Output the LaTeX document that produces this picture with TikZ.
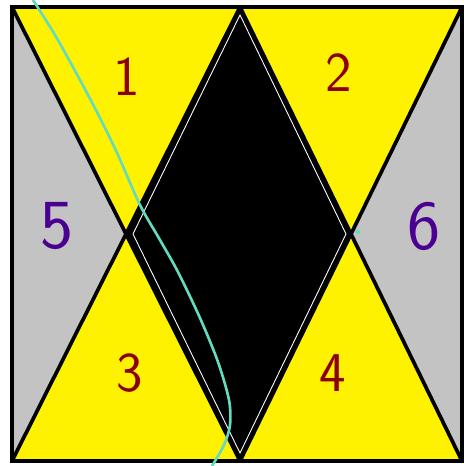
\documentclass[tikz,border=0pt]{standalone}
\usepackage{tikz}
\usetikzlibrary{calc}
\definecolor{panelyellow}{RGB}{255,242,0}
\definecolor{panelgrey}{RGB}{195,195,195}
\definecolor{numred}{RGB}{140,0,10}
\definecolor{numpurple}{RGB}{75,0,145}
\definecolor{traceline}{RGB}{100,218,190}

\begin{document}
\begin{tikzpicture}[x=0.02cm, y=-0.02cm]
    \tikzstyle{edge} = [line width=2.1pt, black, line join=miter]
    \tikzstyle{numlabel} = [font=\sffamily\fontsize{32}{32}\selectfont]
    \tikzstyle{biglabel} = [font=\sffamily\fontsize{40}{40}\selectfont]

    \useasboundingbox (0,0) rectangle (463,466);
    \fill[white] (0,0) rectangle (463,466);

    % corners and crossing points
    \coordinate (tl) at (12,7);
    \coordinate (tm) at (240,7);
    \coordinate (tr) at (462,7);
    \coordinate (bl) at (12,461);
    \coordinate (bm) at (240,461);
    \coordinate (br) at (462,461);
    \coordinate (xl) at (126,234);
    \coordinate (xr) at (351,234);

    % panels
    \fill[panelyellow] (tl) -- (tm) -- (xl) -- cycle;
    \fill[panelyellow] (tm) -- (tr) -- (xr) -- cycle;
    \fill[panelyellow] (bl) -- (xl) -- (bm) -- cycle;
    \fill[panelyellow] (bm) -- (xr) -- (br) -- cycle;
    \fill[panelgrey] (tl) -- (xl) -- (bl) -- cycle;
    \fill[panelgrey] (tr) -- (br) -- (xr) -- cycle;
    \fill[black] (tm) -- (xl) -- (bm) -- (xr) -- cycle;

    % lines
    \draw[edge] (tl) rectangle (br);
    \draw[edge] (tl) -- (bm);
    \draw[edge] (tm) -- (bl);
    \draw[edge] (tm) -- (br);
    \draw[edge] (tr) -- (bm);
    \draw[white, line width=0.5pt] (240,15) -- (133,234) -- (240,453) -- (346,234) -- cycle;

    % labels
    \node [numlabel, numred] (n1) at (127,77) {1};
    \node [numlabel, numred] (n2) at (339,73) {2};
    \node [numlabel, numred] (n3) at (130,373) {3};
    \node [numlabel, numred] (n4) at (333,373) {4};
    \node [biglabel, numpurple] (n5) at (57,226) {5};
    \node [biglabel, numpurple] (n6) at (424,226) {6};

    % hand-drawn trace
    \draw[traceline, line width=1.5pt, line cap=round] plot[smooth] coordinates
        {(33,0) (55,35) (80,80) (100,118) (118,155) (140,205) (160,240)
         (178,272) (200,318) (218,362) (229,400) (230,425) (224,445) (212,466)};
    \fill[traceline] (358,232) circle (2.2);
\end{tikzpicture}
\end{document}
